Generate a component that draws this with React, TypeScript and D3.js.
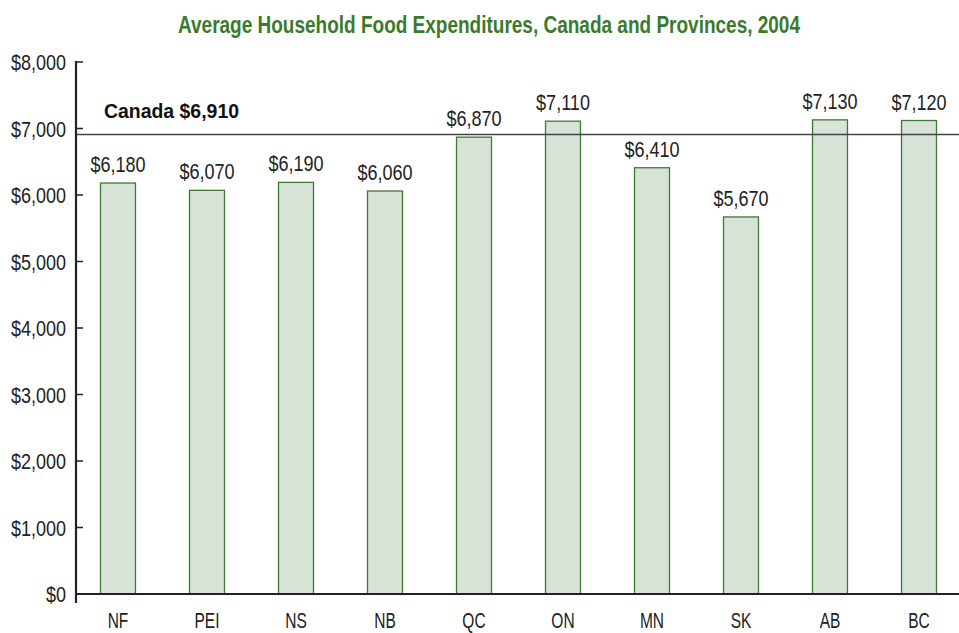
import React from "react";
import * as d3 from "d3";

const categories = ["NF", "PEI", "NS", "NB", "QC", "ON", "MN", "SK", "AB", "BC"];
const values = [6180, 6070, 6190, 6060, 6870, 7110, 6410, 5670, 7130, 7120];
const labels = ["$6,180", "$6,070", "$6,190", "$6,060", "$6,870", "$7,110", "$6,410", "$5,670", "$7,130", "$7,120"];
const yTicks = [0, 1000, 2000, 3000, 4000, 5000, 6000, 7000, 8000];
const canadaValue = 6910;
const canadaLabel = "Canada $6,910";
const title = "Average Household Food Expenditures, Canada and Provinces, 2004";

const W = 959;
const H = 633;
const FONT = "'Liberation Sans', Arial, sans-serif";

function NText(props: {
  x: number;
  y: number;
  sx: number;
  anchor?: "start" | "middle" | "end";
  size: number;
  weight?: string;
  fill?: string;
  children: React.ReactNode;
}) {
  return (
    <text
      transform={`translate(${props.x},${props.y}) scale(${props.sx},1)`}
      textAnchor={props.anchor || "middle"}
      fontFamily={FONT}
      fontSize={props.size}
      fontWeight={props.weight || "normal"}
      fill={props.fill || "#222"}
    >
      {props.children}
    </text>
  );
}

export default function App() {
  const axisX = 76;
  const y = d3.scaleLinear().domain([0, 8000]).range([594, 62]);
  const x = d3
    .scaleBand<string>()
    .domain(categories)
    .range([73.5, 963.5])
    .paddingInner(0.607)
    .paddingOuter(0.3035);
  const fmt = d3.format("$,");

  return (
    <svg width={W} height={H} style={{ position: "absolute", left: 0, top: 0, background: "#fff" }}>
      <text
        x={178}
        y={33}
        textLength={622}
        lengthAdjust="spacingAndGlyphs"
        fontFamily={FONT}
        fontWeight="bold"
        fontSize={23}
        fill="#3b7a2c"
      >
        {title}
      </text>
      {categories.map((c, i) => {
        const cx = (x(c) as number) + x.bandwidth() / 2;
        return (
          <g key={c}>
            <rect
              x={x(c)}
              y={y(values[i])}
              width={x.bandwidth()}
              height={y(0) - y(values[i])}
              fill="#d6e3d6"
              stroke="#3d7a33"
              strokeWidth={1.3}
            />
            <NText x={cx} y={y(values[i]) - 11} sx={0.84} size={21.5}>
              {labels[i]}
            </NText>
            <NText x={cx} y={628} sx={0.69} size={22.5}>
              {c}
            </NText>
          </g>
        );
      })}
      <line x1={axisX} x2={W} y1={y(canadaValue)} y2={y(canadaValue)} stroke="#444" strokeWidth={1.3} />
      <text
        x={104}
        y={118}
        textLength={135}
        lengthAdjust="spacingAndGlyphs"
        fontFamily={FONT}
        fontWeight="bold"
        fontSize={21}
        fill="#111"
      >
        {canadaLabel}
      </text>
      {yTicks.map((t) => (
        <g key={t}>
          <line x1={axisX} x2={axisX + 7} y1={y(t)} y2={y(t)} stroke="#222" strokeWidth={1.5} />
          <NText x={66} y={y(t) + 8} sx={0.8} size={22.5} anchor="end">
            {fmt(t)}
          </NText>
        </g>
      ))}
      <line x1={axisX} x2={axisX} y1={y(8000) - 1} y2={y(0) + 9} stroke="#222" strokeWidth={2.2} />
      <line x1={axisX} x2={W} y1={y(0)} y2={y(0)} stroke="#222" strokeWidth={2.2} />
    </svg>
  );
}
